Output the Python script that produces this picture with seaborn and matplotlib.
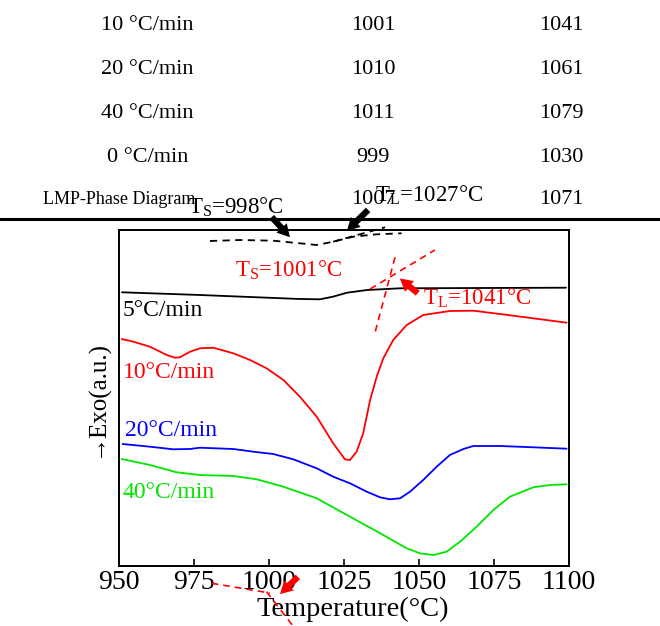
import numpy as np
import pandas as pd
import seaborn as sns
import matplotlib
matplotlib.use("Agg")
import matplotlib.pyplot as plt

sns.set_style("white")
plt.rcParams["font.family"] = ["Liberation Serif", "DejaVu Serif"]
plt.rcParams["mathtext.default"] = "regular"
plt.rcParams["text.color"] = "black"
plt.rcParams["axes.labelcolor"] = "black"
plt.rcParams["xtick.color"] = "black"

# ---- table data ----
table_rates = ["10 °C/min", "20 °C/min", "40 °C/min", "0 °C/min", "LMP-Phase Diagram"]
table_ts = ["1001", "1010", "1011", "999", "1007"]
table_tl = ["1041", "1061", "1079", "1030", "1071"]

# ---- DSC curves (temperature, signal a.u.) ----
t5 = [951, 977, 1010.3, 1017, 1021.3, 1026, 1032.7, 1043.7, 1099]
y5 = [273.7, 271, 267, 266.7, 269.3, 273.3, 276, 277.7, 278.3]

t10 = [950.9, 954.8, 960.3, 965.9, 968.7, 970.3, 973.7, 977, 981.4, 988.1, 993.7, 999.2,
       1004.8, 1010.3, 1015.9, 1021.4, 1025.3, 1027, 1029.2, 1031.4, 1033.7, 1035.9, 1038.1,
       1041.4, 1045.9, 1051.4, 1060.3, 1068.1, 1077, 1088.1, 1099.2]
y10 = [227, 224.3, 219.3, 211, 208.3, 208.7, 214.3, 217.7, 218.3, 212.7, 206, 197.7,
       186, 169.3, 149.3, 122.7, 106.7, 106, 114.3, 132.7, 166, 189.3, 207.7,
       226, 241, 251, 255, 255.3, 252, 247.7, 243.3]

t20 = [951.2, 960.3, 968.1, 973.7, 977, 988.1, 994.8, 1001.4, 1008.1, 1015.9, 1021.4, 1027,
       1032.6, 1037, 1040.3, 1043.7, 1047, 1051.4, 1055.9, 1060.3, 1064.8, 1068.1, 1077,
       1088.1, 1099.2]
y20 = [122, 119.3, 116.7, 117, 118.3, 117, 114.3, 112, 106.7, 97.7, 89.3, 82.7,
       74.3, 68.7, 66.7, 67.7, 74.3, 86, 99.3, 111, 117, 120, 120, 118.7, 117.3]

t40 = [950.9, 960.3, 969.2, 977, 988.1, 995.9, 1004.8, 1015.9, 1027, 1038.1, 1045.9, 1050.3,
       1054.8, 1059.2, 1063.7, 1069.2, 1074.8, 1080.3, 1088.1, 1093.7, 1099.2]
y40 = [107, 101, 93.7, 91, 90, 86.7, 79.3, 67.7, 49.3, 31, 17.7, 12.7,
       11, 14.3, 24.3, 39.3, 56, 69.3, 78.7, 81, 81.7]

# phase-diagram (dashed) curve
tpd = [980.3, 990.3, 1001.4, 1010.3, 1015.9, 1021.4, 1028.1, 1035.9, 1044.2]
ypd = [325, 326, 325.3, 322.7, 321, 324.3, 329.3, 331.7, 332.7]

xticks = [950, 975, 1000, 1025, 1050, 1075, 1100]

W, H = 660, 626
fig = plt.figure(figsize=(W / 100, H / 100), dpi=100)
ax = fig.add_axes([119 / W, (H - 566) / H, 450 / W, 336 / H])

df = pd.concat([
    pd.DataFrame({"T": t5, "S": y5, "rate": "5"}),
    pd.DataFrame({"T": t10, "S": y10, "rate": "10"}),
    pd.DataFrame({"T": t20, "S": y20, "rate": "20"}),
    pd.DataFrame({"T": t40, "S": y40, "rate": "40"}),
])
pal = {"5": "black", "10": "#ff0000", "20": "#0000ff", "40": "#00e600"}
sns.lineplot(data=df, x="T", y="S", hue="rate", palette=pal, sort=False,
             estimator=None, legend=False, linewidth=1.3, ax=ax)

sns.lineplot(x=tpd, y=ypd, color="black", linestyle=(0, (4, 3)), linewidth=1.3,
             sort=False, estimator=None, ax=ax)
ax.plot([1021.4, 1038.7], [324.3, 338.7], color="black", linestyle=(0, (4, 3)),
        linewidth=1.3, clip_on=False)

# red tangent lines
ax.plot([1033.7, 1055.3], [277, 316], color="#ff0000", linestyle=(0, (4, 3)), linewidth=1.2)
ax.plot([1042, 1035.3], [308.7, 233], color="#ff0000", linestyle=(0, (4, 3)), linewidth=1.2)
ax.plot([980.9, 1000.3], [-17.3, -27], color="#ff0000", linestyle=(0, (4, 3)),
        linewidth=1.2, clip_on=False)
ax.plot([999.2, 1008], [-25.7, -60], color="#ff0000", linestyle=(0, (4, 3)),
        linewidth=1.2, clip_on=False)

ax.set_xlim(950, 1100)
ax.set_ylim(0, 336)
ax.set_xticks(xticks)
ax.set_xticklabels([str(v) for v in xticks], fontsize=20)
ax.set_yticks([])
ax.tick_params(axis="x", direction="in", length=5, width=1.2, bottom=True, pad=3)
for s in ax.spines.values():
    s.set_color("black")
    s.set_linewidth(1.4)
ax.set_xlabel("Temperature(°C)", fontsize=20.5)
ax.xaxis.set_label_coords(0.52, -0.092)
ax.set_ylabel("→Exo(a.u.)", fontsize=18, labelpad=8)

# curve labels
ax.text(951.3, 255, "5°C/min", color="black", fontsize=17, va="center")
ax.text(951.3, 193, "10°C/min", color="#ff0000", fontsize=17, va="center")
ax.text(952, 135, "20°C/min", color="#0000ff", fontsize=17, va="center")
ax.text(951.3, 73, "40°C/min", color="#00e600", fontsize=17, va="center")

# annotations
ax.text(988.7, 296, "T$_S$=1001°C", color="#ff0000", fontsize=16.5, va="center")
ax.text(1051.3, 268, "T$_L$=1041°C", color="#ff0000", fontsize=16.5, va="center")

blk = dict(arrowstyle="simple,head_width=1.0,head_length=0.9,tail_width=0.45",
           color="black", lw=0)
red = dict(arrowstyle="simple,head_width=1.0,head_length=0.9,tail_width=0.45",
           color="#ff0000", lw=0)
ax.annotate("", xy=(1007.6, 326.7), xytext=(1000.3, 351), arrowprops=blk,
            annotation_clip=False)
ax.annotate("", xy=(1025.3, 333.3), xytext=(1033.7, 358), arrowprops=blk,
            annotation_clip=False)
ax.annotate("", xy=(1042.9, 289.3), xytext=(1050.3, 271), arrowprops=red,
            annotation_clip=False)
ax.annotate("", xy=(1003, -30), xytext=(1010.3, -9), arrowprops=red,
            annotation_clip=False)

# table
row_y = [25, 69, 113, 157, 200]
col1_x = [147, 147, 147, 148, 119.5]
col1_fs = [16, 16, 16, 16, 13]
for i in range(len(table_rates)):
    fy = 1 - row_y[i] / H
    fig.text(col1_x[i] / W, fy, table_rates[i], ha="center", va="center", fontsize=col1_fs[i])
    fig.text(373 / W, fy, table_ts[i], ha="center", va="center", fontsize=16)
    fig.text(561 / W, fy, table_tl[i], ha="center", va="center", fontsize=16)

fig.text(188 / W, 1 - 207 / H, "T$_S$=998°C", ha="left", va="center", fontsize=16.5)
fig.text(375 / W, 1 - 195 / H, "T$_L$=1027°C", ha="left", va="center", fontsize=16.5)

fig.add_artist(plt.Line2D([0.0, 1.0], [1 - 219 / H, 1 - 219 / H], color="black",
                          linewidth=2.2, transform=fig.transFigure))

fig.savefig("out.png", dpi=100, facecolor="white")
